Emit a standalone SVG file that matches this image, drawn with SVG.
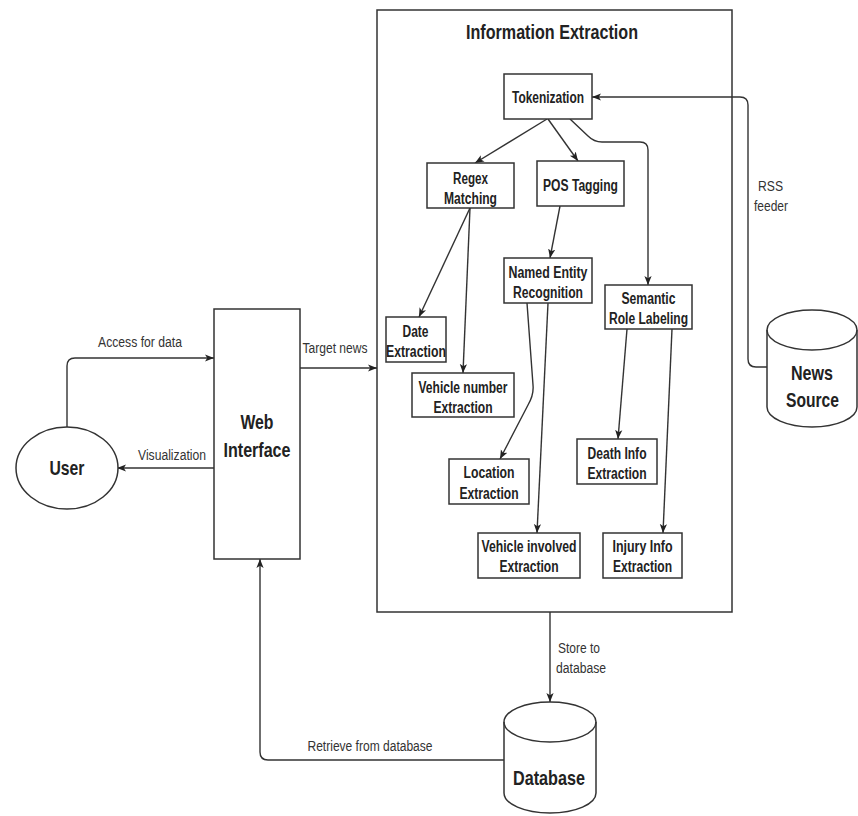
<svg xmlns="http://www.w3.org/2000/svg" width="858" height="816" viewBox="0 0 858 816">
  <defs>
    <marker id="arrow" viewBox="0 0 10 10" refX="10" refY="5" markerWidth="9" markerHeight="9" markerUnits="userSpaceOnUse" orient="auto">
      <path d="M0,1 L10,5 L0,9 L2.5,5 Z" fill="#222"/>
    </marker>
  </defs>
  <style>
    .box { fill: #fff; stroke: #333; stroke-width: 1.5; }
    .edge { fill: none; stroke: #333; stroke-width: 1.4; marker-end: url(#arrow); }
    .line { fill: none; stroke: #333; stroke-width: 1.4; }
    text { font-family: "Liberation Sans", Arial, sans-serif; fill: #222; text-anchor: middle; }
    .n { font-size: 16px; font-weight: bold; }
    .big { font-size: 21px; font-weight: bold; }
    .lbl { font-size: 14px; fill: #333; }
  </style>
  <rect width="858" height="816" fill="#fff"/>

  <!-- container -->
  <g id="information-extraction">
    <rect class="box" x="377" y="10" width="355" height="602"/>
    <text class="big" x="552" y="39" textLength="172" lengthAdjust="spacingAndGlyphs">Information Extraction</text>
  </g>

  <!-- connectors -->
  <g id="connectors">
    <path class="edge" d="M547,119 L475,163"/>
    <path class="edge" d="M548,119 L578,161"/>
    <path class="edge" d="M570,119 L588,136 Q594,142 602,142 L640,142 Q648,142 648,150 L648,285"/>
    <path class="edge" d="M470,208 L419,317"/>
    <path class="edge" d="M470,208 L463,373"/>
    <path class="edge" d="M560,206 L550,258"/>
    <path class="edge" d="M527,303 L533,385 Q534,395 528,405 L500,459"/>
    <path class="edge" d="M548,303 L537,533"/>
    <path class="edge" d="M627,329 L618,439"/>
    <path class="edge" d="M672,329 L663,533"/>
    <path class="edge" d="M767,367 L756,367 Q748,367 748,359 L748,105 Q748,97 740,97 L592,97"/>
    <path class="edge" d="M67,427 L67,366 Q67,358 75,358 L214,358"/>
    <path class="edge" d="M214,468 L117,468"/>
    <path class="edge" d="M300,368 L377,368"/>
    <path class="edge" d="M550,612 L550,702"/>
    <path class="edge" d="M504,760 L268,760 Q260,760 260,752 L260,559"/>
    <text class="lbl" x="140" y="347" textLength="84" lengthAdjust="spacingAndGlyphs">Access for data</text>
    <text class="lbl" x="172" y="460" textLength="68" lengthAdjust="spacingAndGlyphs">Visualization</text>
    <text class="lbl" x="335" y="353" textLength="65" lengthAdjust="spacingAndGlyphs">Target news</text>
    <text class="lbl" x="579" y="653" textLength="42" lengthAdjust="spacingAndGlyphs">Store to</text>
    <text class="lbl" x="581" y="673" textLength="50" lengthAdjust="spacingAndGlyphs">database</text>
    <text class="lbl" x="370" y="751" textLength="125" lengthAdjust="spacingAndGlyphs">Retrieve from database</text>
    <text class="lbl" x="770.5" y="191" textLength="25" lengthAdjust="spacingAndGlyphs">RSS</text>
    <text class="lbl" x="771" y="211" textLength="34" lengthAdjust="spacingAndGlyphs">feeder</text>
  </g>

  <g id="tokenization">
    <rect class="box" x="504" y="74" width="88" height="45"/>
    <text class="n" x="548" y="103" textLength="72" lengthAdjust="spacingAndGlyphs">Tokenization</text>
  </g>
  <g id="regex-matching">
    <rect class="box" x="427" y="163" width="87" height="45"/>
    <text class="n" x="470.5" y="184" textLength="35" lengthAdjust="spacingAndGlyphs">Regex</text>
    <text class="n" x="470.5" y="204" textLength="53" lengthAdjust="spacingAndGlyphs">Matching</text>
  </g>
  <g id="pos-tagging">
    <rect class="box" x="537" y="161" width="87" height="45"/>
    <text class="n" x="580.5" y="191" textLength="75" lengthAdjust="spacingAndGlyphs">POS Tagging</text>
  </g>
  <g id="named-entity-recognition">
    <rect class="box" x="504" y="258" width="88" height="45"/>
    <text class="n" x="548" y="278" textLength="79" lengthAdjust="spacingAndGlyphs">Named Entity</text>
    <text class="n" x="548" y="298" textLength="70" lengthAdjust="spacingAndGlyphs">Recognition</text>
  </g>
  <g id="semantic-role-labeling">
    <rect class="box" x="605" y="285" width="87" height="44"/>
    <text class="n" x="648.5" y="304" textLength="54" lengthAdjust="spacingAndGlyphs">Semantic</text>
    <text class="n" x="648.5" y="324" textLength="79" lengthAdjust="spacingAndGlyphs">Role Labeling</text>
  </g>
  <g id="date-extraction">
    <rect class="box" x="386" y="317" width="60" height="45"/>
    <text class="n" x="415.5" y="337" textLength="26" lengthAdjust="spacingAndGlyphs">Date</text>
    <text class="n" x="416" y="357" textLength="60" lengthAdjust="spacingAndGlyphs">Extraction</text>
  </g>
  <g id="vehicle-number-extraction">
    <rect class="box" x="412" y="373" width="102" height="44"/>
    <text class="n" x="463" y="393" textLength="89" lengthAdjust="spacingAndGlyphs">Vehicle number</text>
    <text class="n" x="463" y="413" textLength="59" lengthAdjust="spacingAndGlyphs">Extraction</text>
  </g>
  <g id="location-extraction">
    <rect class="box" x="449" y="459" width="80" height="45"/>
    <text class="n" x="489" y="478" textLength="51" lengthAdjust="spacingAndGlyphs">Location</text>
    <text class="n" x="489" y="499" textLength="59" lengthAdjust="spacingAndGlyphs">Extraction</text>
  </g>
  <g id="vehicle-involved-extraction">
    <rect class="box" x="478" y="533" width="102" height="45"/>
    <text class="n" x="529" y="552" textLength="95" lengthAdjust="spacingAndGlyphs">Vehicle involved</text>
    <text class="n" x="529" y="572" textLength="59" lengthAdjust="spacingAndGlyphs">Extraction</text>
  </g>
  <g id="death-info-extraction">
    <rect class="box" x="577" y="439" width="80" height="45"/>
    <text class="n" x="617" y="459" textLength="59" lengthAdjust="spacingAndGlyphs">Death Info</text>
    <text class="n" x="617" y="479" textLength="59" lengthAdjust="spacingAndGlyphs">Extraction</text>
  </g>
  <g id="injury-info-extraction">
    <rect class="box" x="603" y="533" width="79" height="45"/>
    <text class="n" x="642.5" y="552" textLength="60" lengthAdjust="spacingAndGlyphs">Injury Info</text>
    <text class="n" x="642.5" y="572" textLength="59" lengthAdjust="spacingAndGlyphs">Extraction</text>
  </g>

  <g id="web-interface">
    <rect class="box" x="214" y="309" width="86" height="250"/>
    <text class="big" x="257" y="429" textLength="33" lengthAdjust="spacingAndGlyphs">Web</text>
    <text class="big" x="257" y="457" textLength="67" lengthAdjust="spacingAndGlyphs">Interface</text>
  </g>
  <g id="user">
    <ellipse class="box" cx="67" cy="468" rx="51" ry="41"/>
    <text class="big" x="67" y="475" textLength="35" lengthAdjust="spacingAndGlyphs">User</text>
  </g>
  <g id="news-source">
    <path class="box" d="M767,330 A45,20 0 0 1 857,330 L857,407 A45,20 0 0 1 767,407 Z"/>
    <path class="line" d="M767,330 A45,20 0 0 0 857,330"/>
    <text class="big" x="812" y="380" textLength="42" lengthAdjust="spacingAndGlyphs">News</text>
    <text class="big" x="812.5" y="407" textLength="53" lengthAdjust="spacingAndGlyphs">Source</text>
  </g>
  <g id="database">
    <path class="box" d="M504,722 A46,20 0 0 1 596,722 L596,793 A46,20 0 0 1 504,793 Z"/>
    <path class="line" d="M504,722 A46,20 0 0 0 596,722"/>
    <text class="big" x="549" y="785" textLength="72" lengthAdjust="spacingAndGlyphs">Database</text>
  </g>
</svg>
